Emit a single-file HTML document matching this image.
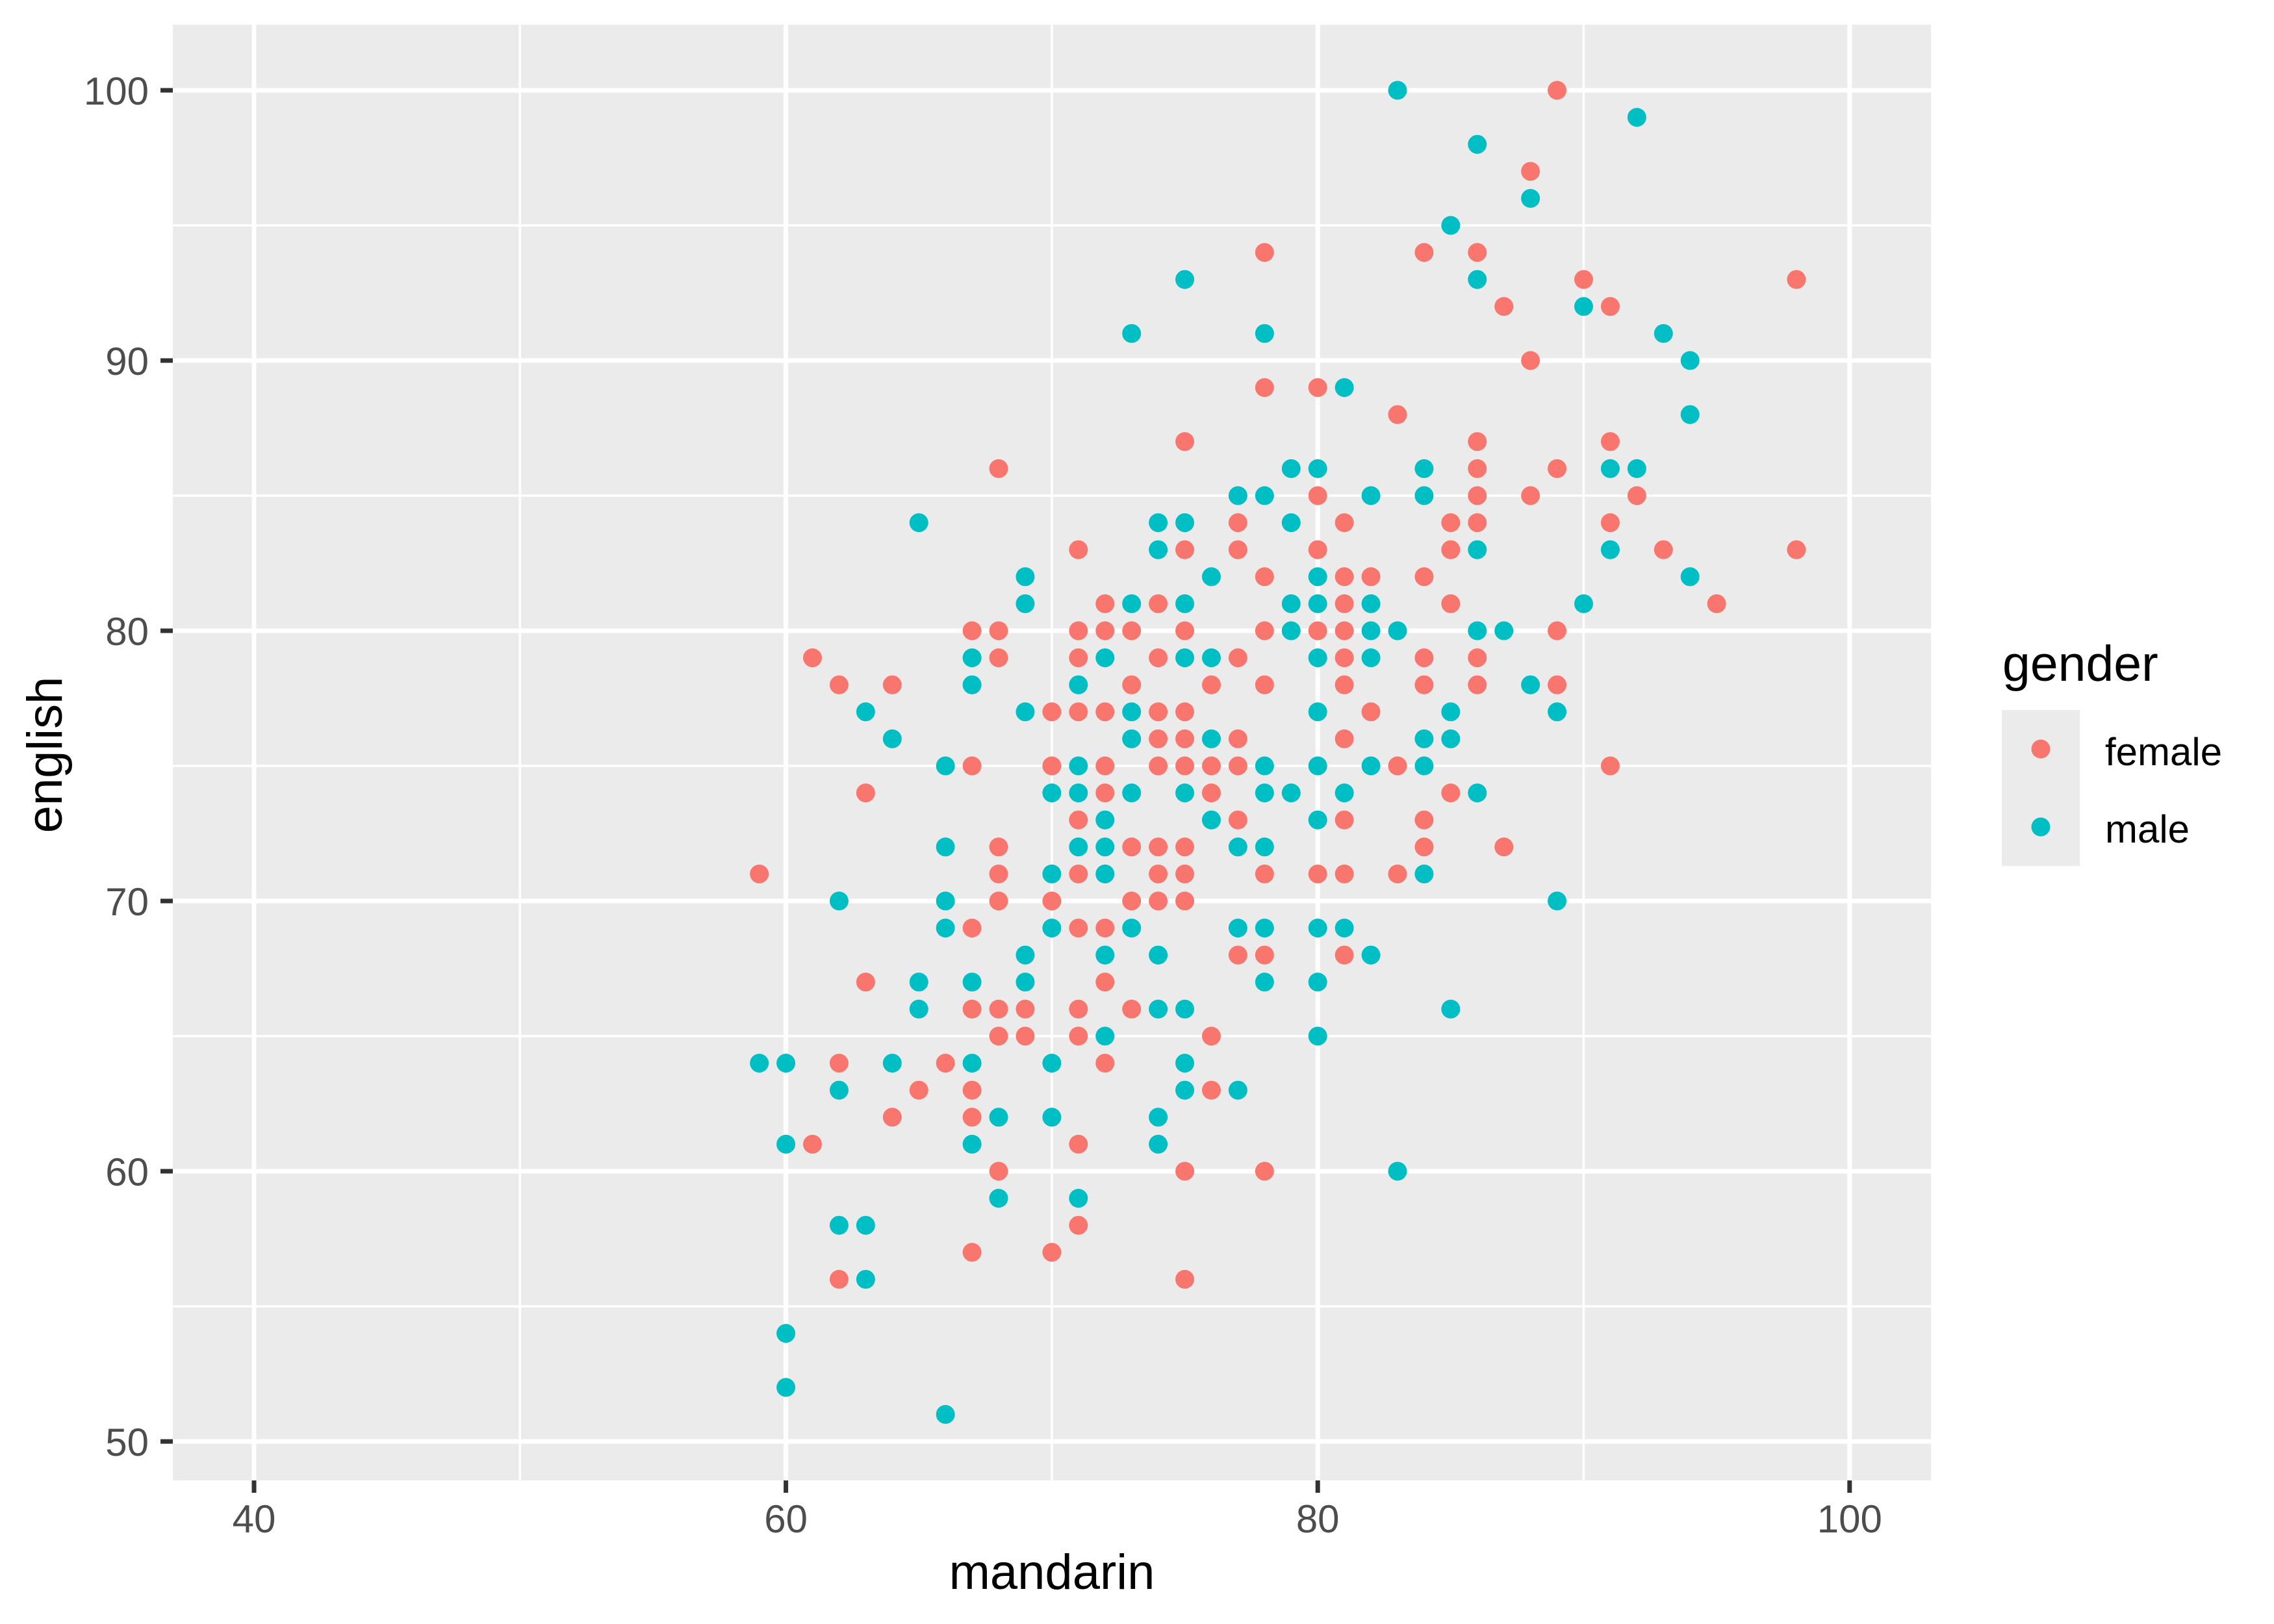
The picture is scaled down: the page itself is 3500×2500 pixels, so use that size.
<!DOCTYPE html>
<html><head><meta charset="utf-8"><style>
html,body{margin:0;padding:0;background:#fff;}
svg{display:block;}
text{font-family:"Liberation Sans",Arial,sans-serif;}
</style></head><body>
<svg id="s" width="3500" height="2500" viewBox="0 0 3500 2500" xmlns="http://www.w3.org/2000/svg">
<rect x="0" y="0" width="3500" height="2500" fill="#fff"/>
<rect x="266" y="38" width="2706" height="2241" fill="#EBEBEB"/>
<g id="grid"></g>
<g id="pts"></g>
<g id="axes" fill="#4D4D4D" font-size="60"></g>
<text x="1619" y="2446" font-size="76" text-anchor="middle" fill="#000">mandarin</text>
<text transform="translate(95,1162) rotate(-90)" font-size="76" text-anchor="middle" fill="#000">english</text>
<text x="3082" y="1048" font-size="77" fill="#000">gender</text>
<rect x="3081" y="1093" width="120" height="240" fill="#EBEBEB"/>
<circle cx="3141" cy="1153" r="14.5" fill="#F8766D"/>
<circle cx="3141" cy="1273" r="14.5" fill="#00BFC4"/>
<text x="3240" y="1178" font-size="60" fill="#000">female</text>
<text x="3240" y="1297" font-size="60" fill="#000">male</text>
</svg>
<script>
var NS="http://www.w3.org/2000/svg";
function X(v){return 391+(v-40)*40.93;}
function Y(v){return 2219-(v-50)*41.6;}
function el(p,t,a,txt){var e=document.createElementNS(NS,t);for(var k in a)e.setAttribute(k,a[k]);if(txt!==undefined)e.textContent=txt;document.getElementById(p).appendChild(e);}
var L=266,R=2972,T=38,B=2279;
[50,70,90].forEach(function(v){el("grid","line",{x1:X(v),x2:X(v),y1:T,y2:B,stroke:"#fff","stroke-width":3.5});});
[55,65,75,85,95].forEach(function(v){el("grid","line",{x1:L,x2:R,y1:Y(v),y2:Y(v),stroke:"#fff","stroke-width":3.5});});
[40,60,80,100].forEach(function(v){el("grid","line",{x1:X(v),x2:X(v),y1:T,y2:B,stroke:"#fff","stroke-width":7});
 el("axes","line",{x1:X(v),x2:X(v),y1:B,y2:B+19,stroke:"#333","stroke-width":7});
 el("axes","text",{x:X(v),y:2359,"text-anchor":"middle"},String(v));});
[50,60,70,80,90,100].forEach(function(v){el("grid","line",{x1:L,x2:R,y1:Y(v),y2:Y(v),stroke:"#fff","stroke-width":7});
 el("axes","line",{x1:247,x2:266,y1:Y(v),y2:Y(v),stroke:"#333","stroke-width":7});
 el("axes","text",{x:229,y:Y(v)+22,"text-anchor":"end"},String(v));});
var D={
100:"c83 r89",99:"c92",98:"c86",97:"r88",96:"c88",95:"c85",94:"r78 r84 r86",
93:"c75 c86 r90 r98",92:"r87 c90 r91",91:"c73 c78 c93",90:"r88 c94",89:"r78 r80 c81",88:"r83 c94",
87:"r75 r86 r91",86:"r68 c79 c80 c84 r86 r89 c91 c92",85:"c77 c78 r80 c82 c84 r86 r88 r92",
84:"c65 c74 c75 r77 c79 r81 r85 r86 r91",83:"r71 c74 r75 r77 r80 r85 c86 c91 r93 r98",
82:"c69 c76 r78 c80 r81 r82 r84 c94",81:"c69 r72 c73 r74 c75 c79 c80 r81 c82 r85 c90 r95",
80:"r67 r68 r71 r72 r73 r75 r78 c79 r80 r81 c82 c83 c86 c87 r89",
79:"r61 c67 r68 r71 c72 r74 c75 c76 r77 c80 r81 c82 r84 r86",
78:"r62 r64 c67 c71 r73 r76 r78 r81 r84 r86 c88 r89",
77:"c63 c69 r70 r71 r72 c73 r74 r75 c80 r82 c85 c89",
76:"c64 c73 r74 r75 c76 r77 r81 c84 c85",
75:"c66 r67 r70 c71 r72 r74 r75 r76 r77 c78 c80 c82 r83 c84 r91",
74:"r63 c70 c71 r72 c73 c75 r76 c78 c79 c81 r85 c86",
73:"r71 c72 c76 r77 c80 r81 r84",
72:"c66 r68 c71 c72 r73 r74 r75 c77 c78 r84 r87",
71:"r59 r68 c70 r71 c72 r74 r75 r78 r80 r81 r83 c84",
70:"c62 c66 r68 r70 r73 r74 r75 c89",
69:"c66 r67 c70 r71 r72 c73 c77 c78 c80 c81",
68:"c69 c72 c74 r77 r78 r81 c82",
67:"r63 c65 c67 c69 r72 c78 c80",
66:"c65 r67 r68 r69 r71 r73 c74 c75 c85",
65:"r68 r69 r71 c72 r76 c80",
64:"c59 c60 r62 c64 r66 c67 c70 r72 c75",
63:"c62 r65 r67 c75 r76 c77",
62:"r64 r67 c68 c70 c74",61:"c60 r61 c67 r71 c74",60:"r68 r75 r78 c83",
59:"c68 c71",58:"c62 c63 r71",57:"r67 r70",56:"r62 c63 r75",54:"c60",52:"c60",51:"c66"};
for(var y in D){D[y].split(" ").forEach(function(s){
 el("pts","circle",{cx:X(+s.slice(1)),cy:Y(+y),r:14.5,fill:s[0]=="r"?"#F8766D":"#00BFC4"});});}
</script>
</body></html>
